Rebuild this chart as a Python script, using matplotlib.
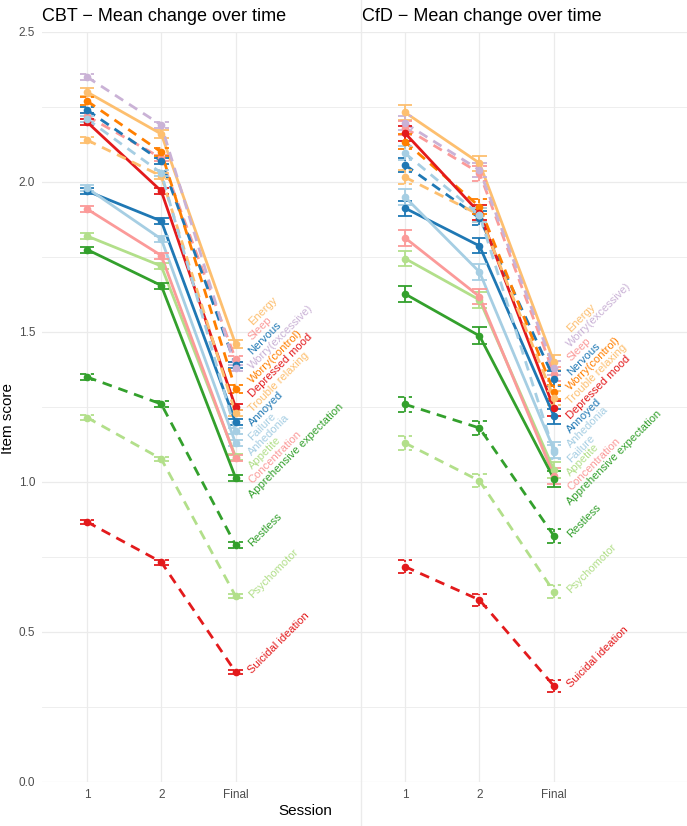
"""
Item score trajectories for CBT and CfD, one line per symptom item.
"""
import numpy as np
from matplotlib import pyplot as plt
from matplotlib.lines import Line2D

plt.rcParams["font.family"] = ["Liberation Sans", "DejaVu Sans"]

# Data
sessions = ["1", "2", "Final"]
items = ["Energy", "Sleep", "Nervous", "Worry(excessive)", "Worry(control)",
         "Depressed mood", "Trouble relaxing", "Annoyed", "Failure", "Anhedonia",
         "Appetite", "Concentration", "Apprehensive expectation", "Restless",
         "Psychomotor", "Suicidal ideation"]

cbt_session1 = [2.30, 2.22, 2.24, 2.35, 2.27, 2.20, 2.14, 1.97, 2.21, 1.98,
                1.82, 1.91, 1.775, 1.35, 1.215, 0.867]
cbt_session2 = [2.16, 2.08, 2.07, 2.19, 2.10, 1.97, 2.02, 1.87, 2.03, 1.81,
                1.72, 1.755, 1.655, 1.26, 1.077, 0.733]
cbt_final = [1.46, 1.41, 1.39, 1.38, 1.31, 1.25, 1.23, 1.20, 1.17, 1.13,
             1.085, 1.08, 1.015, 0.79, 0.62, 0.367]
cbt_se = [0.012, 0.011, 0.011, 0.011, 0.012, 0.011, 0.011, 0.011, 0.011, 0.011,
          0.010, 0.010, 0.010, 0.009, 0.008, 0.008]

cfd_session1 = [2.232, 2.18, 2.057, 2.196, 2.134, 2.163, 2.016, 1.913, 2.096, 1.95,
                1.745, 1.814, 1.627, 1.259, 1.13, 0.718]
cfd_session2 = [2.063, 2.03, 1.88, 2.04, 1.918, 1.897, 1.89, 1.787, 1.89, 1.70,
                1.607, 1.618, 1.487, 1.18, 1.004, 0.607]
cfd_final = [1.40, 1.36, 1.345, 1.38, 1.30, 1.245, 1.28, 1.22, 1.10, 1.107,
             1.04, 1.02, 1.01, 0.82, 0.634, 0.32]
cfd_se = [0.025, 0.025, 0.024, 0.024, 0.025, 0.025, 0.024, 0.025, 0.024, 0.026,
          0.026, 0.026, 0.028, 0.024, 0.022, 0.021]

colours = ["#FDBF6F", "#FB9A99", "#1F78B4", "#CAB2D6", "#FF7F00", "#E31A1C",
           "#FDBF6F", "#1F78B4", "#A6CEE3", "#A6CEE3", "#B2DF8A", "#FB9A99",
           "#33A02C", "#33A02C", "#B2DF8A", "#E31A1C"]
dashed = [False, True, True, True, True, False, True, False, True, False,
          False, False, False, True, True, True]


def spread_labels(values, min_gap=0.048, n_iter=400):
    """Push label positions apart so they don't overlap (simple repel)."""
    order = np.argsort(values)[::-1]
    pos = np.array(values, dtype=float)[order]
    for _ in range(n_iter):
        for i in range(len(pos) - 1):
            gap = pos[i] - pos[i + 1]
            if gap < min_gap:
                shift = (min_gap - gap) / 2
                pos[i] += shift
                pos[i + 1] -= shift
    result = np.empty_like(pos)
    result[order] = pos
    return result


def draw_panel(axis, title, s1, s2, final, se, xlim, show_y):
    x = np.arange(1, len(sessions) + 1)
    means = np.column_stack([s1, s2, final])

    for i, name in enumerate(items):
        ls = (0, (3.5, 2.5)) if dashed[i] else "-"
        col = colours[i]
        axis.plot(x, means[i], color=col, lw=2.0, linestyle=ls, zorder=3,
                  solid_capstyle="butt", dash_capstyle="butt")
        lo = means[i] - se[i]
        hi = means[i] + se[i]
        axis.vlines(x, lo, hi, colors=col, linestyles=ls, lw=1.3, zorder=3)
        axis.hlines(np.concatenate([lo, hi]), np.tile(x, 2) - 0.1, np.tile(x, 2) + 0.1,
                    colors=col, linestyles=ls, lw=1.3, zorder=3)
        axis.plot(x, means[i], "o", color=col, ms=4.5, zorder=4)

    label_y = spread_labels(final)
    for i, name in enumerate(items):
        axis.text(x[-1] + 0.2, label_y[i], name, color=colours[i], fontsize=8,
                  rotation=45, rotation_mode="anchor", ha="left", va="center",
                  clip_on=False, zorder=5)

    axis.set_xlim(*xlim)
    axis.set_ylim(0, 2.5)
    axis.set_xticks(x)
    axis.set_xticklabels(sessions)
    axis.set_yticks(np.arange(0, 2.51, 0.5))
    axis.set_yticks(np.arange(0.25, 2.5, 0.5), minor=True)
    axis.set_yticklabels([f"{v:.1f}" for v in np.arange(0, 2.51, 0.5)])
    if not show_y:
        axis.tick_params(axis="y", labelleft=False)
    axis.tick_params(axis="both", which="both", length=0, labelsize=8.5,
                     labelcolor="#4D4D4D", pad=5)
    axis.grid(True, which="major", color="#EBEBEB", lw=0.9)
    axis.grid(True, which="minor", axis="y", color="#EBEBEB", lw=0.6)
    axis.set_axisbelow(True)
    for spine in axis.spines.values():
        spine.set_visible(False)
    axis.set_title(title, loc="left", fontsize=13, pad=8)


fig = plt.figure(figsize=(6.87, 8.26), dpi=100)
ax_cbt = fig.add_axes([42 / 687, 44 / 826, 319 / 687, 750 / 826])
ax_cfd = fig.add_axes([362 / 687, 44 / 826, 325 / 687, 750 / 826])

draw_panel(ax_cbt, "CBT \u2212 Mean change over time", cbt_session1, cbt_session2,
           cbt_final, cbt_se, (0.394, 4.69), True)
draw_panel(ax_cfd, "CfD \u2212 Mean change over time", cfd_session1, cfd_session2,
           cfd_final, cfd_se, (0.423, 4.785), False)

# Separator between the two plots
fig.add_artist(Line2D([361.5 / 687, 361.5 / 687], [0, 1], color="#EBEBEB", lw=1))

fig.text(305 / 687, 15 / 826, "Session", ha="center", va="center", fontsize=11)
fig.text(8 / 687, 407 / 826, "Item score", ha="center", va="center",
         rotation=90, fontsize=11)

plt.savefig("out.png", dpi=100)
